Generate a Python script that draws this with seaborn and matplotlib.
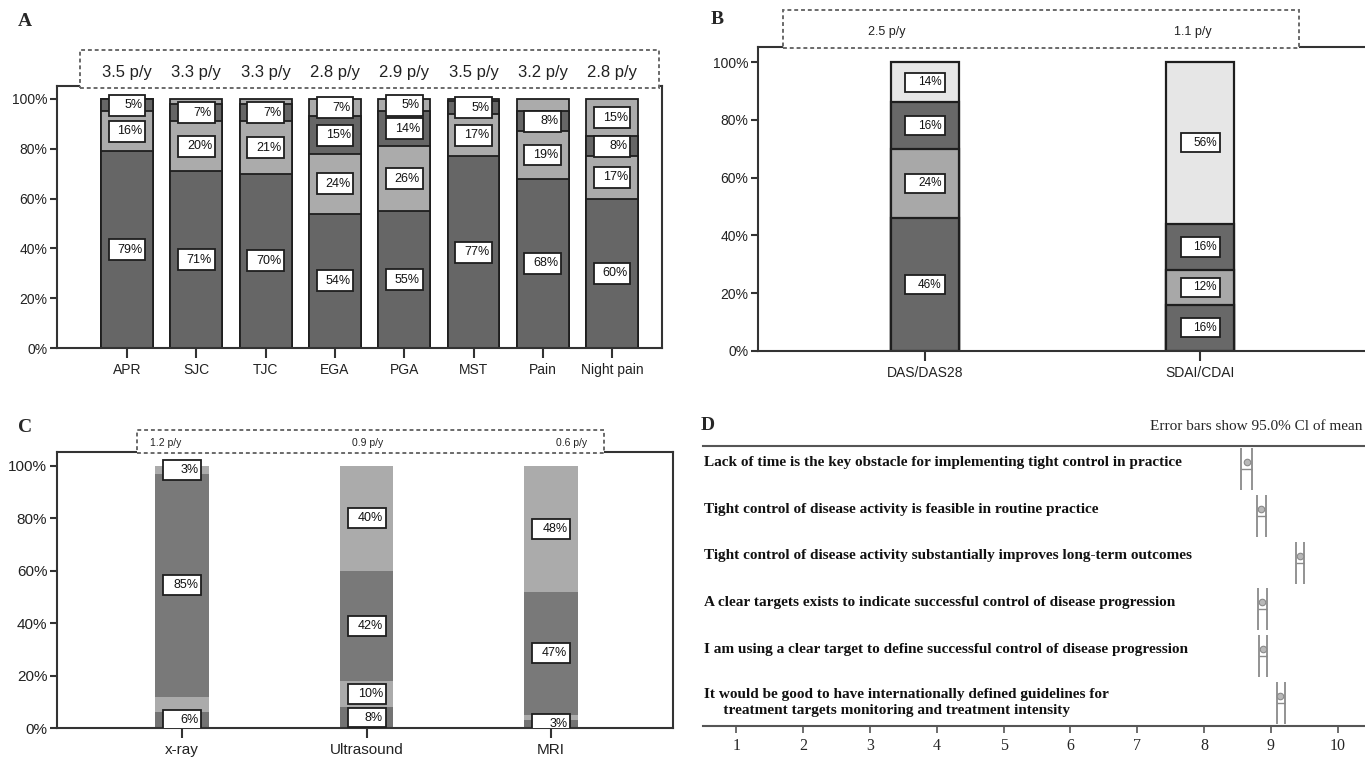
import numpy as np
import matplotlib
matplotlib.use("Agg")
import matplotlib.pyplot as plt
import seaborn as sns
from matplotlib.patches import Rectangle
from matplotlib.ticker import FuncFormatter
from matplotlib.transforms import blended_transform_factory

W, H = 1365, 758

# ---- panel A: monitoring parameters
a_cats = ["APR", "SJC", "TJC", "EGA", "PGA", "MST", "Pain", "Night pain"]
a_rate = ["3.5 p/y", "3.3 p/y", "3.3 p/y", "2.8 p/y", "2.9 p/y", "3.5 p/y", "3.2 p/y", "2.8 p/y"]
a_s1 = [79, 71, 70, 54, 55, 77, 68, 60]
a_s2 = [16, 20, 21, 24, 26, 17, 19, 17]
a_s3 = [5, 7, 7, 15, 14, 5, 8, 8]
a_s4 = [0, 2, 2, 7, 5, 1, 5, 15]
a_s4_labelled = [False, False, False, True, True, False, False, True]

# ---- panel B: composite scores
b_cats = ["DAS/DAS28", "SDAI/CDAI"]
b_rate = ["2.5 p/y", "1.1 p/y"]
b_s1 = [46, 16]
b_s2 = [24, 12]
b_s3 = [16, 16]
b_s4 = [14, 56]

# ---- panel C: imaging
c_cats = ["x-ray", "Ultrasound", "MRI"]
c_rate = ["1.2 p/y", "0.9 p/y", "0.6 p/y"]
c_s1 = [6, 8, 3]
c_s2 = [6, 10, 2]
c_s2_labelled = [False, True, False]
c_s3 = [85, 42, 47]
c_s4 = [3, 40, 48]

# ---- panel D: agreement statements (mean and 95% CI)
d_items = [
    "Lack of time is the key obstacle for implementing tight control in practice",
    "Tight control of disease activity is feasible in routine practice",
    "Tight control of disease activity substantially improves long-term outcomes",
    "A clear targets exists to indicate successful control of disease progression",
    "I am using a clear target to define successful control of disease progression",
    "It would be good to have internationally defined guidelines for\n     treatment targets monitoring and treatment intensity",
]
d_mean = [8.64, 8.85, 9.43, 8.87, 8.88, 9.14]
d_low = [8.55, 8.79, 9.37, 8.81, 8.82, 9.09]
d_high = [8.72, 8.93, 9.49, 8.94, 8.94, 9.22]

sns.set_style("white")
plt.rcParams["font.family"] = ["Liberation Sans", "DejaVu Sans"]
NARROW = ["Liberation Sans Narrow", "Liberation Sans", "DejaVu Sans"]
SERIF = ["Liberation Serif", "DejaVu Serif"]

fig = plt.figure(figsize=(W / 100, H / 100), dpi=100)


def px_rect(l, t, r, b):
    return [l / W, 1 - b / H, (r - l) / W, (b - t) / H]


def to_axes(ax_px, x, y):
    l, t, r, b = ax_px
    return (x - l) / (r - l), (b - y) / (b - t)


def stacked(ax, cats, segs, colors, width, lw):
    tops = np.cumsum(segs, axis=0)
    for k in range(len(segs) - 1, -1, -1):
        sns.barplot(x=cats, y=tops[k], color=colors[k], width=width, saturation=1,
                    edgecolor="#1e1e1e", linewidth=lw, errorbar=None, ax=ax, zorder=2)


def value_boxes(ax, segs, shown, bw, bh, fs):
    tops = np.cumsum(segs, axis=0)
    for k in range(len(segs)):
        for i in range(len(segs[k])):
            if not shown[k][i]:
                continue
            v = segs[k][i]
            yc = tops[k][i] - v / 2
            ax.add_patch(Rectangle((i - bw / 2, yc - bh / 2), bw, bh, facecolor="white",
                                   edgecolor="#1e1e1e", linewidth=1.3, zorder=4))
            ax.text(i + bw / 2 - bw * 0.07, yc, f"{v}%", ha="right", va="center",
                    fontsize=fs, zorder=5, clip_on=True, color="#111111")


def rate_box(ax, ax_px, box_px, y_px, labels, xs, fs, xdata=False):
    x0, y0 = to_axes(ax_px, box_px[0], box_px[3])
    x1, y1 = to_axes(ax_px, box_px[2], box_px[1])
    ax.add_patch(Rectangle((x0, y0), x1 - x0, y1 - y0, transform=ax.transAxes,
                           facecolor="white", edgecolor="#6a6a6a", linestyle=(0, (2, 1.5)),
                           linewidth=1.4, clip_on=False, zorder=5))
    ty = to_axes(ax_px, 0, y_px)[1]
    trans = blended_transform_factory(ax.transData if xdata else ax.transAxes, ax.transAxes)
    for x, lab in zip(xs, labels):
        ax.text(x, ty, lab, transform=trans, ha="center", va="center", fontsize=fs,
                zorder=6, family=NARROW, color="#222222", clip_on=False)


def style_frame(ax, cats, xlim, ysize, xsize):
    ax.set_xlim(*xlim)
    ax.set_ylim(0, 105.2)
    ax.set_xticks(range(len(cats)))
    ax.set_xticklabels(cats)
    ax.set_yticks(range(0, 101, 20))
    ax.yaxis.set_major_formatter(FuncFormatter(lambda v, p: f"{v:.0f}%"))
    ax.set_xlabel("")
    ax.set_ylabel("")
    for s in ax.spines.values():
        s.set_linewidth(1.5)
        s.set_color("#333333")
        s.set_visible(True)
    ax.tick_params(axis="y", left=True, length=5, width=1.5, pad=2, labelsize=ysize,
                   color="#333333", labelcolor="#222222")
    ax.tick_params(axis="x", bottom=True, length=7, width=1.5, pad=4, labelsize=xsize,
                   color="#333333", labelcolor="#222222")


dark, light, pale = "#666666", "#ababab", "#e6e6e6"

# ---------- A
A_px = (57, 86, 662, 348)
axA = fig.add_axes(px_rect(*A_px))
a_segs = [a_s1, a_s2, a_s3, a_s4]
stacked(axA, a_cats, a_segs, [dark, light, dark, light], 0.75, 1.3)
value_boxes(axA, a_segs, [[True] * 8, [True] * 8, [True] * 8, a_s4_labelled], 0.53, 8.4, 9)
style_frame(axA, a_cats, (-1.01, 7.72), 10, 10)
rate_box(axA, A_px, (80, 50, 659, 88), 72, a_rate, range(len(a_cats)), 12, xdata=True)

# ---------- B
B_px = (758, 47, 1372, 351)
axB = fig.add_axes(px_rect(*B_px))
b_segs = [b_s1, b_s2, b_s3, b_s4]
stacked(axB, b_cats, b_segs, ["#686868", "#a8a8a8", "#686868", pale], 0.25, 1.6)
value_boxes(axB, b_segs, [[True] * 2] * 4, 0.142, 6.6, 8.5)
style_frame(axB, b_cats, (-0.607, 1.625), 10, 10)
b_xs = [to_axes(B_px, x, 0)[0] for x in (887, 1193)]
rate_box(axB, B_px, (783, 10, 1299, 48), 32, b_rate, b_xs, 9)

# ---------- C
C_px = (57, 452, 673, 728)
axC = fig.add_axes(px_rect(*C_px))
c_segs = [c_s1, c_s2, c_s3, c_s4]
stacked(axC, c_cats, c_segs, ["#737373", "#ababab", "#797979", "#ababab"], 0.29, 0)
value_boxes(axC, c_segs, [[True] * 3, c_s2_labelled, [True] * 3, [True] * 3], 0.206, 7.6, 9)
style_frame(axC, c_cats, (-0.678, 2.661), 11, 11)
c_xs = [to_axes(C_px, x, 0)[0] for x in (166, 368, 572)]
rate_box(axC, C_px, (137, 430, 604, 453), 443, c_rate, c_xs, 7.5)

# ---------- D
D_px = (703, 446, 1371, 726)
axD = fig.add_axes(px_rect(*D_px))
ypos = np.arange(len(d_items))
axD.vlines(d_low, ypos - 0.45, ypos + 0.45, color="#8a8a8a", lw=1.3)
axD.vlines(d_high, ypos - 0.45, ypos + 0.45, color="#8a8a8a", lw=1.3)
axD.hlines(ypos, d_low, d_high, color="#8a8a8a", lw=1.0)
sns.scatterplot(x=d_mean, y=ypos - 0.15, ax=axD, s=22, color="#b8b8b8",
                edgecolor="#8a8a8a", linewidth=0.8, zorder=3)
for i, lab in enumerate(d_items):
    yy = i if "\n" in lab else i - 0.15
    axD.text(0.52, yy, lab, ha="left", va="center", family=SERIF, weight="bold",
             fontsize=11, linespacing=1.25, color="#111111")
axD.set_xlim(0.5, 10.5)
axD.set_ylim(5.5, -0.5)
axD.set_xticks(range(1, 11))
axD.set_yticks([])
axD.spines["left"].set_visible(False)
axD.spines["right"].set_visible(False)
for s in ("top", "bottom"):
    axD.spines[s].set_linewidth(1.5)
    axD.spines[s].set_color("#555555")
axD.tick_params(axis="x", bottom=True, length=5, width=1.2, pad=4, labelsize=11.5,
                color="#555555")
for t in axD.get_xticklabels():
    t.set_family(SERIF)

# panel letters and note
for letter, x, y in (("A", 25, 22), ("B", 717, 20), ("C", 25, 427), ("D", 708, 425)):
    fig.text(x / W, 1 - y / H, letter, ha="center", va="center", family=SERIF,
             weight="bold", fontsize=14)
fig.text(1362 / W, 1 - 427 / H, "Error bars show 95.0% Cl of mean", ha="right", va="center",
         family=SERIF, fontsize=11)

fig.savefig("out.png", dpi=100)
